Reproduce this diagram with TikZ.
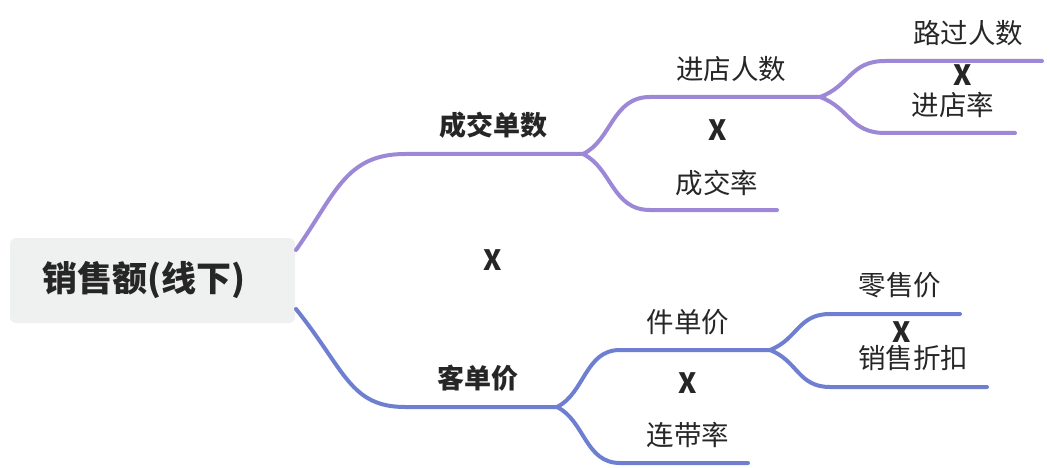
\documentclass[tikz,border=0pt]{standalone}
\usepackage{fontspec}
\newfontfamily\cjk{Noto Sans CJK SC}
\definecolor{purp}{HTML}{9C88D6}
\definecolor{blu}{HTML}{6E7FD2}
\definecolor{rootbg}{HTML}{EFF0F0}
\definecolor{txt}{HTML}{262626}
\begin{document}
\begin{tikzpicture}[x=1pt,y=-1pt,
  rootbox/.style={fill=rootbg,rounded corners=6pt,text width=221pt,align=left,inner xsep=32pt,
    minimum height=85pt,inner ysep=0pt,
    text=txt,font=\cjk\bfseries\fontsize{35}{40}\selectfont},
  lone/.style={text=txt,inner sep=0pt,font=\cjk\bfseries\fontsize{27}{30}\selectfont},
  ltwo/.style={text=txt,inner sep=0pt,font=\cjk\fontsize{27.5}{30}\selectfont},
  xmark/.style={text=txt,inner sep=0pt,font=\cjk\bfseries\fontsize{28}{30}\selectfont},
  br/.style={line width=4pt,line cap=round}]
\useasboundingbox (0,0) rectangle (1050,468);
\node[rootbox] (root) at (152.5,280.5) {销售额(线下)};
% coordinates
\coordinate (rp) at (296,250);
\coordinate (rb) at (296,309);
\coordinate (f1) at (583,154);
\coordinate (f2) at (557,407);
\coordinate (f11) at (820,97);
\coordinate (e12) at (777,210);
\coordinate (e111) at (1042,61);
\coordinate (e112) at (1015,133);
\coordinate (f21) at (770,350);
\coordinate (e22) at (748,463);
\coordinate (e211) at (960,314);
\coordinate (e212) at (987,387);
% purple
\draw[br,purp] (rp) .. controls (335,195) and (345,154) .. (405,154) -- (f1);
\draw[br,purp] (f1) .. controls (612,140) and (612,97) .. (650,97) -- (f11);
\draw[br,purp] (f1) .. controls (612,168) and (612,210) .. (650,210) -- (e12);
\draw[br,purp] (f11) .. controls (850,86) and (850,61) .. (885,61) -- (e111);
\draw[br,purp] (f11) .. controls (850,108) and (850,133) .. (885,133) -- (e112);
% blue
\draw[br,blu] (rb) .. controls (345,370) and (350,407) .. (405,407) -- (f2);
\draw[br,blu] (f2) .. controls (585,393) and (585,350) .. (620,350) -- (f21);
\draw[br,blu] (f2) .. controls (585,421) and (585,463) .. (620,463) -- (e22);
\draw[br,blu] (f21) .. controls (798,339) and (798,314) .. (830,314) -- (e211);
\draw[br,blu] (f21) .. controls (798,361) and (798,387) .. (830,387) -- (e212);
% labels
\node[lone] (n1) at (493,125) {成交单数};
\node[lone] (n2) at (478,378) {客单价};
\node[xmark] (x0) at (493,260) {X};
\node[ltwo] (n11) at (731,69) {进店人数};
\node[xmark] (x1) at (718,130) {X};
\node[ltwo] (n12) at (717,183) {成交率};
\node[ltwo] (n111) at (968,33) {路过人数};
\node[xmark] (x11) at (963,75) {X};
\node[ltwo] (n112) at (953,105) {进店率};
\node[ltwo] (n21) at (688,322) {件单价};
\node[xmark] (x2) at (688,383) {X};
\node[ltwo] (n22) at (688,435) {连带率};
\node[ltwo] (n211) at (900,285) {零售价};
\node[xmark] (x21) at (902,332) {X};
\node[ltwo] (n212) at (913,358) {销售折扣};
\end{tikzpicture}
\end{document}
